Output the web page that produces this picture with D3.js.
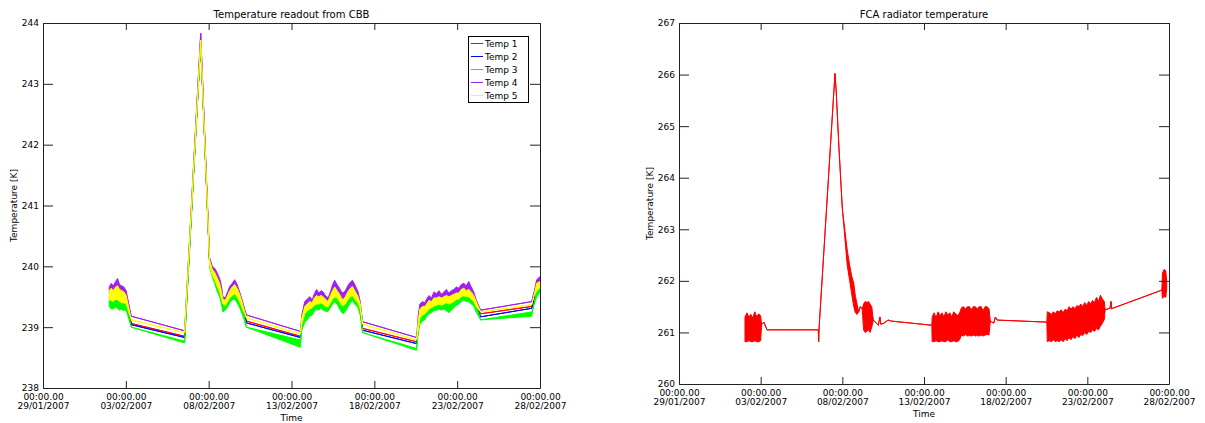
<!DOCTYPE html>
<html>
<head>
<meta charset="utf-8">
<script src="https://cdn.jsdelivr.net/npm/d3@7"></script>
<style>
	body { margin: 0; background: #fff; }
	svg text { font-family: "DejaVu Sans", sans-serif; fill: #000; }
</style>
</head>
<body>
<div id="chart"></div>
<script>
// time is in days after 29/01/2007 00:00
// a plain number is one reading, a [lo, hi] pair is the spread of a noisy stretch
var cbbDays = [4.0, 4.12, 4.25, 4.38, 4.5, 4.62, 4.75, 4.88, 5.02, 5.33,
	8.55, 9.52, 10.06, 10.22, 10.36, 10.5, 10.66, 10.76, 10.86, 11.0,
	11.14, 11.27, 11.42, 11.57, 11.72, 11.87, 12.05, 12.28, 15.54, 15.62,
	15.8, 15.95, 16.1, 16.25, 16.38, 16.51, 16.65, 16.78, 16.91, 17.05,
	17.21, 17.35, 17.48, 17.61, 17.75, 17.9, 18.02, 18.11, 18.25, 18.4,
	18.55, 18.68, 18.82, 19.02, 19.15, 19.29, 22.55, 22.65, 22.75, 22.9,
	23.05, 23.15, 23.3, 23.45, 23.6, 23.75, 23.9, 24.05, 24.2, 24.35,
	24.5, 24.65, 24.8, 24.95, 25.1, 25.25, 25.4, 25.55, 25.7, 25.85,
	26.0, 26.15, 26.42, 29.5, 29.62, 29.8, 30.0];

var temp1 = [239.5, 239.5, 239.48, 239.52, 239.52, 239.48, 239.47, 239.46, 239.44, 239.06,
	238.85, 243.7, 240.04, 239.88, 239.82, 239.72, 239.62, 239.52, [239.3, 239.4], 239.39,
	239.45, 239.52, 239.56, 239.58, 239.54, 239.46, 239.32, 239.1, 238.85, 239.06,
	239.24, 239.28, 239.32, 239.33, 239.37, 239.4, 239.4, 239.42, 239.4, 239.36,
	239.35, 239.42, 239.48, 239.52, 239.5, 239.44, 239.38, 239.37, 239.4, 239.47,
	239.52, 239.54, 239.48, 239.42, 239.32, 238.98, 238.76, 238.97, 239.17, 239.22,
	239.24, 239.27, 239.32, 239.34, 239.37, 239.38, 239.4, 239.38, 239.4, 239.42,
	239.4, 239.42, 239.44, 239.48, 239.48, 239.52, 239.54, 239.52, 239.52, 239.48,
	239.44, 239.36, 239.22, 239.34, 239.45, 239.62, 239.67];

var temp2 = [239.48, 239.47, 239.45, 239.5, 239.49, 239.46, 239.44, 239.43, 239.41, 239.04,
	238.83, 243.69, 240.03, 239.87, 239.8, 239.7, 239.6, 239.5, 239.3, 239.37,
	239.44, 239.5, 239.54, 239.56, 239.52, 239.44, 239.31, 239.07, 238.83, 239.04,
	239.22, 239.26, 239.3, 239.31, 239.36, 239.38, 239.38, 239.4, 239.38, 239.34,
	239.33, 239.4, 239.46, 239.5, 239.48, 239.42, 239.36, 239.35, 239.38, 239.45,
	239.5, 239.52, 239.46, 239.4, 239.3, 238.95, 238.73, 238.96, 239.16, 239.2,
	239.22, 239.25, 239.3, 239.32, 239.35, 239.36, 239.38, 239.36, 239.38, 239.4,
	239.38, 239.4, 239.42, 239.46, 239.46, 239.5, 239.52, 239.5, 239.5, 239.46,
	239.42, 239.34, 239.17, 239.31, 239.42, 239.6, 239.65];

var temp3 = [[239.34, 239.5], [239.3, 239.5], [239.3, 239.48], [239.33, 239.52], [239.31, 239.5],
	[239.28, 239.48], [239.3, 239.46], [239.27, 239.45], [239.28, 239.43], 239.0,
	[238.74, 238.77], 243.68, [239.98, 240.06], [239.82, 239.9], [239.72, 239.83],
	[239.6, 239.73], [239.5, 239.63], [239.4, 239.53], [239.25, 239.43], [239.28, 239.41],
	[239.33, 239.47], [239.4, 239.53], [239.45, 239.57], [239.46, 239.6], [239.4, 239.55],
	[239.32, 239.47], [239.2, 239.33], 239.0, [238.67, 238.79], [238.95, 239.08],
	[239.08, 239.26], [239.12, 239.3], [239.18, 239.33], [239.2, 239.35], [239.26, 239.39],
	[239.3, 239.41], [239.28, 239.41], [239.32, 239.43], [239.28, 239.41], [239.26, 239.37],
	[239.26, 239.36], [239.32, 239.43], [239.38, 239.49], [239.42, 239.53], [239.38, 239.51],
	[239.3, 239.45], [239.25, 239.39], [239.22, 239.38], [239.26, 239.41], [239.33, 239.48],
	[239.4, 239.53], [239.44, 239.55], [239.38, 239.49], [239.32, 239.43], [239.2, 239.33],
	238.91, [238.62, 238.65], [238.9, 238.98], [239.05, 239.18], [239.1, 239.23],
	[239.12, 239.25], [239.18, 239.28], [239.22, 239.33], [239.24, 239.35], [239.27, 239.38],
	[239.28, 239.39], [239.3, 239.41], [239.28, 239.39], [239.3, 239.41], [239.27, 239.43],
	[239.24, 239.41], [239.28, 239.43], [239.32, 239.45], [239.36, 239.49], [239.38, 239.49],
	[239.42, 239.53], [239.45, 239.55], [239.42, 239.53], [239.42, 239.53], [239.38, 239.49],
	[239.35, 239.45], [239.25, 239.37], 239.12, [239.18, 239.25], 239.35, [239.5, 239.63],
	[239.58, 239.68]];

var temp4 = [[239.55, 239.66], [239.58, 239.72], [239.55, 239.68], [239.6, 239.75], [239.62, 239.8],
	[239.56, 239.7], [239.55, 239.68], [239.52, 239.66], [239.47, 239.6], 239.18,
	238.94, 243.83, [240.06, 240.14], [239.9, 240.0], [239.85, 239.97],
	[239.77, 239.9], [239.67, 239.8], [239.55, 239.7], [239.42, 239.5], [239.4, 239.48],
	[239.47, 239.58], [239.55, 239.67], [239.6, 239.72], [239.64, 239.78], [239.58, 239.7],
	[239.5, 239.58], [239.34, 239.42], 239.2, 238.93, [239.1, 239.2],
	[239.3, 239.42], [239.33, 239.46], [239.37, 239.5], [239.36, 239.45], [239.43, 239.55],
	[239.47, 239.62], [239.45, 239.56], [239.47, 239.6], [239.45, 239.58], [239.41, 239.52],
	[239.38, 239.48], [239.47, 239.58], [239.55, 239.7], [239.6, 239.77], [239.55, 239.7],
	[239.49, 239.64], [239.43, 239.58], [239.4, 239.56], [239.45, 239.6], [239.53, 239.68],
	[239.59, 239.74], [239.62, 239.77], [239.55, 239.7], [239.45, 239.58], [239.33, 239.42],
	239.09, 238.83, [239.05, 239.2], [239.25, 239.38], [239.29, 239.42],
	[239.29, 239.4], [239.33, 239.46], [239.39, 239.52], [239.37, 239.48], [239.43, 239.58],
	[239.43, 239.55], [239.45, 239.6], [239.43, 239.54], [239.45, 239.58], [239.47, 239.62],
	[239.45, 239.56], [239.47, 239.6], [239.49, 239.62], [239.51, 239.66], [239.51, 239.64],
	[239.57, 239.7], [239.59, 239.72], [239.55, 239.68], [239.57, 239.75], [239.53, 239.66],
	[239.47, 239.58], [239.38, 239.45], 239.28, 239.42, 239.55, [239.66, 239.78],
	[239.7, 239.83]];

var temp5 = [[239.45, 239.6], [239.44, 239.64], [239.42, 239.6], [239.46, 239.66], [239.45, 239.68],
	[239.42, 239.62], [239.4, 239.6], [239.4, 239.58], [239.38, 239.52], 239.12,
	238.91, 243.72, [240.02, 240.1], [239.85, 239.95], [239.78, 239.9],
	[239.68, 239.82], [239.58, 239.72], [239.48, 239.6], [239.38, 239.46], [239.36, 239.44],
	[239.42, 239.52], [239.48, 239.6], [239.52, 239.66], [239.55, 239.7], [239.5, 239.64],
	[239.42, 239.54], [239.3, 239.38], 239.15, 238.89, [239.05, 239.15],
	[239.22, 239.34], [239.27, 239.38], [239.3, 239.42], [239.32, 239.4], [239.36, 239.48],
	[239.38, 239.52], [239.38, 239.5], [239.4, 239.52], [239.38, 239.5], [239.34, 239.46],
	[239.33, 239.42], [239.4, 239.52], [239.46, 239.6], [239.5, 239.66], [239.48, 239.6],
	[239.42, 239.54], [239.36, 239.48], [239.35, 239.45], [239.38, 239.5], [239.45, 239.58],
	[239.5, 239.64], [239.52, 239.67], [239.46, 239.6], [239.4, 239.5], [239.3, 239.38],
	239.05, 238.79, [238.95, 239.1], [239.15, 239.3], [239.2, 239.34],
	[239.22, 239.34], [239.25, 239.38], [239.3, 239.44], [239.32, 239.42], [239.35, 239.48],
	[239.36, 239.48], [239.38, 239.5], [239.36, 239.48], [239.38, 239.5], [239.4, 239.52],
	[239.38, 239.5], [239.4, 239.52], [239.42, 239.54], [239.46, 239.56], [239.46, 239.56],
	[239.5, 239.62], [239.52, 239.64], [239.5, 239.6], [239.5, 239.62], [239.46, 239.58],
	[239.42, 239.52], [239.34, 239.42], 239.25, 239.37, 239.5, [239.6, 239.72],
	[239.65, 239.75]];

var seriesNames = ["Temp 1", "Temp 2", "Temp 3", "Temp 4", "Temp 5"];
var seriesColors = ["#ff0000", "#0000ff", "#00ff00", "#a020f0", "#ffff00"];

var fcaDays = [4.04, 4.16, 4.28, 4.4, 4.52, 4.64, 4.76, 4.88, 5.0, 5.06,
	5.2, 5.39, 8.53, 8.55, 8.58, 9.55, 9.62, 9.8, 10.0, 10.3,
	10.45, 10.57, 10.7, 10.8, 10.9, 11.0, 11.1, 11.22, 11.3, 11.4,
	11.5, 11.6, 11.7, 11.8, 11.9, 12.2, 12.3, 12.35, 12.55, 12.8,
	13.0, 15.48, 15.5, 15.62, 15.74, 15.86, 15.98, 16.1, 16.22, 16.34,
	16.46, 16.58, 16.7, 16.82, 16.94, 17.06, 17.18, 17.3, 17.42, 17.54,
	17.66, 17.78, 17.9, 18.02, 18.14, 18.26, 18.38, 18.5, 18.62, 18.74,
	18.86, 18.98, 19.06, 19.27, 19.37, 19.47, 22.52, 22.55, 22.68, 22.8,
	22.92, 23.04, 23.16, 23.28, 23.4, 23.52, 23.64, 23.76, 23.88, 24.0,
	24.12, 24.24, 24.36, 24.48, 24.6, 24.72, 24.84, 24.96, 25.08, 25.2,
	25.32, 25.44, 25.56, 25.68, 25.8, 25.92, 26.04, 26.09, 26.39, 26.45,
	26.48, 29.56, 29.6, 29.7, 29.8, 29.86];

var fcaTemp = [[260.82, 261.3], [260.82, 261.38], [260.84, 261.3], [260.82, 261.35], [260.82, 261.28],
	[260.84, 261.4], [260.82, 261.3], [260.82, 261.36], [260.84, 261.32], 261.15,
	261.2, 261.05, 261.05, 260.82, 261.1, 266.02, 265.7, 264.54, 263.4, [262.3, 262.6],
	[262.0, 262.3], [261.75, 262.1], [261.5, 261.95], [261.38, 261.7], [261.35, 261.55],
	261.4, 261.5, 261.45, [261.05, 261.55], [261.0, 261.6],
	[261.02, 261.58], [261.05, 261.6], [261.0, 261.55], [261.1, 261.5], 261.24,
	261.14, 261.3, 261.16, 261.18, 261.24,
	261.22, 261.14, [260.82, 261.3], [260.82, 261.38], [260.84, 261.28],
	[260.82, 261.4], [260.82, 261.32], [260.84, 261.38], [260.82, 261.3], [260.82, 261.4],
	[260.86, 261.34], [260.82, 261.38], [260.82, 261.3], [260.84, 261.4], [260.82, 261.36],
	[260.82, 261.32], [260.86, 261.38], [260.95, 261.48], [260.93, 261.5], [260.96, 261.45],
	[260.93, 261.5], [260.94, 261.5], [260.93, 261.44], [260.95, 261.5], [260.93, 261.5],
	[260.94, 261.46], [260.93, 261.5], [260.95, 261.5], [260.93, 261.42], [260.95, 261.5],
	[260.96, 261.5], [260.95, 261.46], 261.22, 261.18, 261.3,
	261.24, 261.2, [260.82, 261.4], [260.84, 261.38], [260.82, 261.35],
	[260.86, 261.4], [260.82, 261.36], [260.84, 261.42], [260.82, 261.4], [260.86, 261.44],
	[260.82, 261.38], [260.88, 261.45], [260.84, 261.42], [260.9, 261.5], [260.86, 261.45],
	[260.92, 261.5], [260.88, 261.46], [260.95, 261.52], [260.9, 261.5], [260.96, 261.55],
	[260.94, 261.5], [261.0, 261.58], [260.96, 261.52], [261.02, 261.6], [261.0, 261.55],
	[261.05, 261.62], [261.02, 261.58], [261.08, 261.68], [261.05, 261.6], [261.12, 261.72],
	[261.18, 261.65], [261.25, 261.6], 261.44, 261.47, 261.6,
	261.46, 261.82, [261.66, 262.15], [261.7, 262.22], [261.68, 262.2], [261.85, 262.0]];

var xTickDays = [0, 5, 10, 15, 20, 25, 30];
var cbbYTicks = [238, 239, 240, 241, 242, 243, 244];
var fcaYTicks = [260, 261, 262, 263, 264, 265, 266, 267];

var t0 = Date.UTC(2007, 0, 29);
function toDate(d) { return new Date(t0 + d * 864e5); }
function toPoints(days, vals) {
	return days.map(function(d, i) {
		var v = vals[i];
		return Array.isArray(v) ? { t: toDate(d), lo: v[0], hi: v[1] } : { t: toDate(d), lo: v, hi: v };
	});
}

var svg = d3.select("#chart").append("svg")
	.attr("width", 1205)
	.attr("height", 423);

var dateFmt = d3.utcFormat("%d/%m/%Y");

function Panel(box, yDomain, yTicks, title, id) {
	this.box = box;
	this.x = d3.scaleUtc().domain([toDate(0), toDate(30)]).range([box.left, box.right]);
	this.y = d3.scaleLinear().domain(yDomain).range([box.bottom, box.top]);
	this.g = svg.append("g");

	this.g.append("clipPath").attr("id", id)
		.append("rect")
		.attr("x", box.left).attr("y", box.top)
		.attr("width", box.right - box.left).attr("height", box.bottom - box.top);
	this.plot = this.g.append("g").attr("clip-path", "url(#" + id + ")");

	var ticks = xTickDays.map(toDate);
	var bottom = this.g.append("g")
		.attr("transform", "translate(0," + box.bottom + ")")
		.call(d3.axisBottom(this.x).tickValues(ticks).tickSizeInner(-7).tickSizeOuter(0).tickPadding(4));
	bottom.selectAll(".tick text").each(function(d) {
		var t = d3.select(this).text(null).attr("dy", null).attr("y", 9);
		t.append("tspan").attr("x", 0).attr("dy", "0.32em").text("00:00.00");
		t.append("tspan").attr("x", 0).attr("dy", "9").text(dateFmt(d));
	});
	this.g.append("g")
		.attr("transform", "translate(0," + box.top + ")")
		.call(d3.axisTop(this.x).tickValues(ticks).tickSizeInner(-7).tickSizeOuter(0).tickFormat(""));
	this.g.append("g")
		.attr("transform", "translate(" + box.left + ",0)")
		.call(d3.axisLeft(this.y).tickValues(yTicks).tickSizeInner(-10).tickSizeOuter(0).tickPadding(4).tickFormat(d3.format("d")));
	this.g.append("g")
		.attr("transform", "translate(" + box.right + ",0)")
		.call(d3.axisRight(this.y).tickValues(yTicks).tickSizeInner(-10).tickSizeOuter(0).tickFormat(""));

	this.g.selectAll(".domain, .tick line").attr("stroke", "#222");
	this.g.selectAll(".tick text").attr("font-size", 9).attr("font-family", "DejaVu Sans").attr("fill", "#000");

	var cx = (box.left + box.right) / 2;
	this.g.append("text").attr("x", cx).attr("y", box.top - 5)
		.attr("text-anchor", "middle").attr("font-size", 10).text(title);
	this.g.append("text").attr("x", cx).attr("y", box.bottom + 33)
		.attr("text-anchor", "middle").attr("font-size", 9).text("Time");
	this.g.append("text")
		.attr("transform", "translate(" + (box.left - 26) + "," + ((box.top + box.bottom) / 2) + ") rotate(-90)")
		.attr("text-anchor", "middle").attr("font-size", 9).text("Temperature [K]");
}
Panel.prototype.addSeries = function(points, color) {
	var x = this.x, y = this.y;
	var area = d3.area()
		.x(function(d) { return x(d.t); })
		.y0(function(d) { return y(d.lo); })
		.y1(function(d) { return y(d.hi); });
	this.plot.append("path")
		.datum(points)
		.attr("d", area)
		.attr("fill", color)
		.attr("stroke", color)
		.attr("stroke-width", 1)
		.attr("stroke-linejoin", "round");
};

var cbb = new Panel({ left: 43, top: 23, right: 540, bottom: 388 }, [238, 244], cbbYTicks,
	"Temperature readout from CBB", "clip-cbb");
[temp1, temp2, temp3, temp4, temp5].forEach(function(vals, i) {
	cbb.addSeries(toPoints(cbbDays, vals), seriesColors[i]);
});

// legend
var legend = cbb.g.append("g").attr("transform", "translate(468,36)");
legend.append("rect").attr("x", 0.5).attr("y", 0.5).attr("width", 60).attr("height", 66)
	.attr("fill", "#fff").attr("stroke", "#000");
seriesNames.forEach(function(name, i) {
	var yy = 7.5 + i * 13;
	legend.append("line").attr("x1", 3).attr("x2", 15).attr("y1", yy).attr("y2", yy)
		.attr("stroke", seriesColors[i]);
	legend.append("text").attr("x", 17).attr("y", yy + 3.5).attr("font-size", 9).text(name);
});

var fca = new Panel({ left: 679, top: 23, right: 1169, bottom: 384 }, [260, 267], fcaYTicks,
	"FCA radiator temperature", "clip-fca");
fca.addSeries(toPoints(fcaDays, fcaTemp), "#ff0000");
</script>
</body>
</html>
